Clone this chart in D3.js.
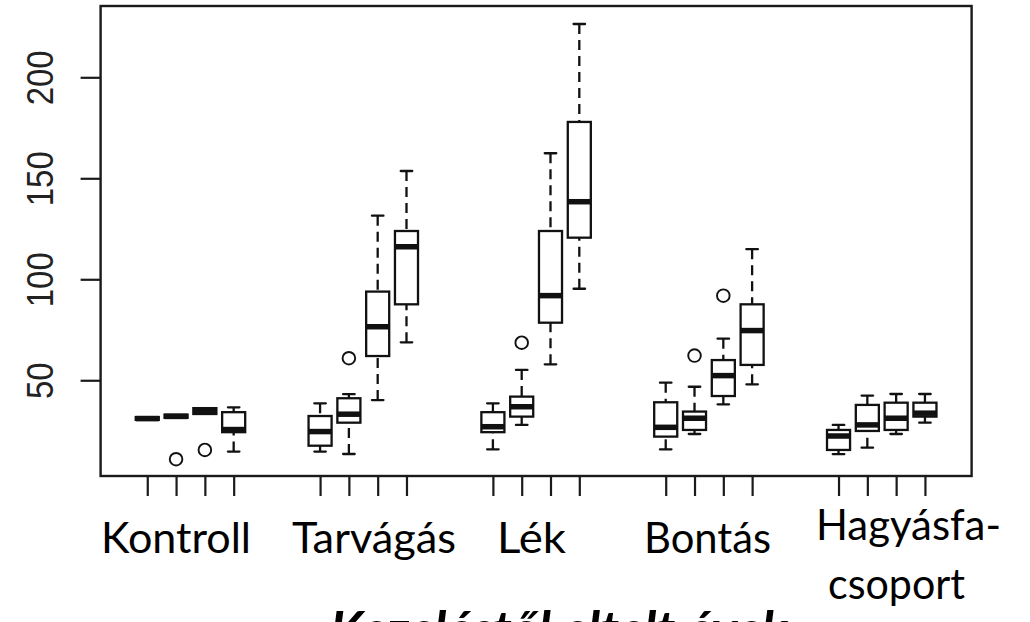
<!DOCTYPE html>
<html>
<head>
<meta charset="utf-8">
<script src="https://cdn.jsdelivr.net/npm/d3@7"></script>
<style>
  body { margin: 0; background: #fff; }
  svg { display: block; }
</style>
</head>
<body>
<script>
// treatment groups, four boxes each
const groups = ["Kontroll", "Tarvágás", "Lék", "Bontás", "Hagyásfa-csoport"];
const boxesPerGroup = 4;

// five-number summaries, box by box (group order, then box order)
const whiskerLow  = [30.4, 31.4, 33.3, 14.7,  14.7, 13.5, 40.2, 68.8,  15.8, 27.9, 57.9,  95.3,  15.8, 23.4, 38.1,  48.0,  13.4, 16.6, 23.4, 29.0];
const quartile1   = [30.4, 31.4, 33.3, 24.3,  17.6, 29.0, 62.0, 87.6,  24.3, 32.0, 78.5, 120.6,  22.1, 25.4, 42.2,  57.6,  15.5, 24.9, 25.4, 32.0];
const median      = [31.0, 32.1, 34.6, 25.6,  24.6, 33.2, 76.5, 116.1, 27.0, 36.9, 91.9, 138.4,  26.7, 31.2, 52.3,  74.6,  22.4, 27.9, 31.2, 33.7];
const quartile3   = [31.8, 33.0, 36.2, 34.2,  32.3, 41.1, 93.9, 123.9, 34.2, 41.9, 123.9, 177.9, 39.1, 34.5, 60.0,  87.6,  25.4, 37.8, 38.9, 38.9];
const whiskerHigh = [31.8, 33.0, 36.2, 36.6,  38.6, 43.1, 131.5, 153.6, 38.6, 55.1, 162.4, 226.4, 48.8, 46.8, 70.6, 114.9, 27.9, 42.4, 43.2, 43.2];

// outliers: [box index, value]
const outliers = [[1, 10.9], [2, 15.5], [5, 60.9], [9, 68.6], [13, 62.2], [14, 91.9]];

const yTicks = [50, 100, 150, 200];
const xTitle = "Kezeléstől eltelt évek";

// hand placed group labels (PowerPoint style overlay)
const labelLayout = [
    {lines: ["Kontroll"], x: 101, y: 553, w: [150]},
    {lines: ["Tarvágás"], x: 292, y: 553, w: [164]},
    {lines: ["Lék"], x: 497, y: 553, w: [69]},
    {lines: ["Bontás"], x: 644, y: 553, w: [127]},
    {lines: ["Hagyásfa-", "csoport"], x: 816, y: 540, w: [185, 137], dx: [0, 12], dy: 59},
];

const width = 1030,
    height = 622,
    frame = {left: 100.6, right: 971.6, top: 6, bottom: 476};

const svg = d3.select("body").append("svg")
    .attr("width", width)
    .attr("height", height)
    .attr("viewBox", `0 0 ${width} ${height}`);

svg.append("rect").attr("width", width).attr("height", height).attr("fill", "#fff");

// box positions like R's boxplot(at = ...): groups separated by two empty slots
const boxes = median.map((m, i) => ({
    i,
    pos: Math.floor(i / boxesPerGroup) * (boxesPerGroup + 2) + (i % boxesPerGroup) + 1,
    lo: whiskerLow[i],
    q1: quartile1[i],
    med: m,
    q3: quartile3[i],
    hi: whiskerHigh[i],
}));

const x = d3.scaleLinear()
    .domain([-0.62, 29.62])
    .range([frame.left, frame.right]);

const y = d3.scaleLinear()
    .domain([2.6, 235.3])
    .range([frame.bottom, frame.top]);

const unit = x(1) - x(0),
    boxW = 0.8 * unit,
    stapleW = 0.5 * boxW,
    ink = "#111";

const plot = svg.append("g");

// whiskers, drawn from the whisker end towards the box (as R does)
const bx = plot.selectAll("g.box")
    .data(boxes)
    .join("g")
    .attr("class", "box");

bx.filter(d => d.lo < d.q1).append("line")
    .attr("x1", d => x(d.pos)).attr("x2", d => x(d.pos))
    .attr("y1", d => y(d.lo)).attr("y2", d => y(d.q1))
    .attr("stroke", ink).attr("stroke-width", 2.3)
    .attr("stroke-dasharray", "10,6");

bx.filter(d => d.hi > d.q3).append("line")
    .attr("x1", d => x(d.pos)).attr("x2", d => x(d.pos))
    .attr("y1", d => y(d.hi)).attr("y2", d => y(d.q3))
    .attr("stroke", ink).attr("stroke-width", 2.3)
    .attr("stroke-dasharray", "10,6");

// staples
bx.selectAll("line.staple")
    .data(d => d.lo < d.q1 || d.hi > d.q3 ? [{pos: d.pos, v: d.lo}, {pos: d.pos, v: d.hi}] : [])
    .join("line")
    .attr("class", "staple")
    .attr("x1", d => x(d.pos) - stapleW / 2)
    .attr("x2", d => x(d.pos) + stapleW / 2)
    .attr("y1", d => y(d.v)).attr("y2", d => y(d.v))
    .attr("stroke", ink).attr("stroke-width", 2.3)
    .attr("stroke-linecap", "round");

// boxes
bx.append("rect")
    .attr("x", d => x(d.pos) - boxW / 2)
    .attr("width", boxW)
    .attr("y", d => y(d.q3))
    .attr("height", d => Math.max(0.5, y(d.q1) - y(d.q3)))
    .attr("fill", "#fff")
    .attr("stroke", ink).attr("stroke-width", 2.3);

// medians
bx.append("line")
    .attr("x1", d => x(d.pos) - boxW / 2)
    .attr("x2", d => x(d.pos) + boxW / 2)
    .attr("y1", d => y(d.med)).attr("y2", d => y(d.med))
    .attr("stroke", ink).attr("stroke-width", 5.5);

// outliers
plot.selectAll("circle.out")
    .data(outliers)
    .join("circle")
    .attr("class", "out")
    .attr("cx", d => x(boxes[d[0]].pos))
    .attr("cy", d => y(d[1]))
    .attr("r", 6.3)
    .attr("fill", "none")
    .attr("stroke", ink).attr("stroke-width", 1.9);

// frame
svg.append("rect")
    .attr("x", frame.left).attr("y", frame.top)
    .attr("width", frame.right - frame.left)
    .attr("height", frame.bottom - frame.top)
    .attr("fill", "none")
    .attr("stroke", "#1a1a1a").attr("stroke-width", 2.4);

// y axis
const yAxis = svg.append("g")
    .attr("transform", `translate(${frame.left},0)`)
    .call(d3.axisLeft(y).tickValues(yTicks).tickSize(20).tickPadding(0));
yAxis.select(".domain").remove();
yAxis.selectAll(".tick line").attr("stroke", "#1a1a1a").attr("stroke-width", 2.2);
yAxis.selectAll(".tick text")
    .attr("x", null).attr("dy", null)
    .attr("transform", `translate(-48,0) rotate(-90) scale(1,1.14)`)
    .attr("text-anchor", "middle")
    .attr("fill", "#222")
    .style("font-family", "'Liberation Sans', Arial, sans-serif")
    .style("font-size", "33px");

// x axis: ticks only
const xAxis = svg.append("g")
    .attr("transform", `translate(0,${frame.bottom})`)
    .call(d3.axisBottom(x).tickValues(boxes.map(d => d.pos)).tickSize(20).tickFormat(""));
xAxis.select(".domain").remove();
xAxis.selectAll(".tick line").attr("stroke", "#1a1a1a").attr("stroke-width", 2.2);

// group labels
const labelFont = "Lato, 'Open Sans', sans-serif";
labelLayout.forEach(l => {
    l.lines.forEach((line, li) => {
        svg.append("text")
            .attr("x", l.x + (l.dx ? l.dx[li] : 0))
            .attr("y", l.y + li * (l.dy || 0))
            .attr("textLength", l.w[li])
            .attr("lengthAdjust", "spacingAndGlyphs")
            .style("font-family", labelFont)
            .style("font-size", "42px")
            .attr("fill", "#000")
            .text(line);
    });
});

// x title, cut by the bottom edge as in the source
svg.append("text")
    .attr("x", 330)
    .attr("y", 648)
    .style("font-family", labelFont)
    .style("font-size", "52px")
    .style("font-style", "italic")
    .style("font-weight", "bold")
    .attr("fill", "#000")
    .text(xTitle);
</script>
</body>
</html>
